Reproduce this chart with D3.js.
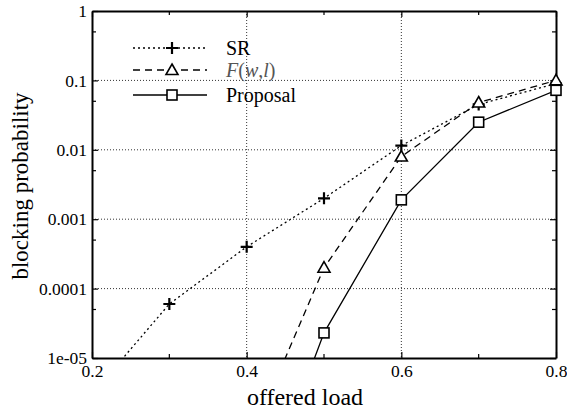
<!DOCTYPE html>
<html>
<head>
<meta charset="utf-8">
<script src="https://cdn.jsdelivr.net/npm/d3@7"></script>
<style>
  body { margin: 0; background: #fff; }
</style>
</head>
<body>
<svg id="chart" width="567" height="414"></svg>
<script>
// --- data ---
const loads = [0.2, 0.3, 0.4, 0.5, 0.6, 0.7, 0.8];
const srValues = [3e-6, 6e-5, 4e-4, 2e-3, 0.0115, 0.045, 0.09];
const fwlLoads = [0.4, 0.5, 0.6, 0.7, 0.8];
const fwlValues = [5e-7, 2e-4, 0.008, 0.048, 0.1];
const propLoads = [0.4, 0.5, 0.6, 0.7, 0.8];
const propValues = [2.5e-8, 2.3e-5, 0.0019, 0.025, 0.072];
// markers drawn only where points are inside the frame
const markFrom = { sr: 1, fwl: 1, prop: 1 };

const xTicks = [0.2, 0.4, 0.6, 0.8];
const xMinor = [0.3, 0.5, 0.7];
const yTicks = [1e-5, 1e-4, 1e-3, 1e-2, 0.1, 1];
const yTickLabels = ["1e-05", "0.0001", "0.001", "0.01", "0.1", "1"];
const yMinor = [5e-5, 5e-4, 5e-3, 0.05, 0.5];

const SERIF = "'Liberation Serif', 'Times New Roman', 'DejaVu Serif', serif";

const svg = d3.select("#chart");
const margin = { top: 11, right: 11, bottom: 56, left: 92 };
const W = 567 - margin.left - margin.right,
      H = 414 - margin.top - margin.bottom;

const g = svg.append("g").attr("transform", `translate(${margin.left},${margin.top})`);

const x = d3.scaleLinear().domain([0.2, 0.8]).range([0, W]);
const y = d3.scaleLog().domain([1e-5, 1]).range([H, 0]);

// clip
g.append("clipPath").attr("id", "clip")
  .append("rect").attr("width", W).attr("height", H);

// grid (dotted)
g.selectAll("line.gx").data(xTicks.slice(1, -1)).enter().append("line")
  .attr("x1", d => x(d)).attr("x2", d => x(d)).attr("y1", 0).attr("y2", H)
  .attr("stroke", "#333").attr("stroke-width", 1).attr("stroke-dasharray", "1,2");
g.selectAll("line.gy").data(yTicks.slice(1, -1)).enter().append("line")
  .attr("y1", d => y(d)).attr("y2", d => y(d)).attr("x1", 0).attr("x2", W)
  .attr("stroke", "#333").attr("stroke-width", 1).attr("stroke-dasharray", "1,2");

// axes (ticks inward)
const fmtY = d => yTickLabels[yTicks.indexOf(d)];
const axL = g.append("g").call(d3.axisLeft(y).tickValues(yTicks).tickFormat(fmtY).tickSizeInner(-6).tickSizeOuter(0).tickPadding(5));
const axB = g.append("g").attr("transform", `translate(0,${H})`)
  .call(d3.axisBottom(x).tickValues(xTicks).tickFormat(d3.format(".1f")).tickSizeInner(-6).tickSizeOuter(0).tickPadding(7));
const axR = g.append("g").attr("transform", `translate(${W},0)`)
  .call(d3.axisRight(y).tickValues(yTicks).tickFormat("").tickSizeInner(-6).tickSizeOuter(0));
const axT = g.append("g")
  .call(d3.axisTop(x).tickValues(xTicks).tickFormat("").tickSizeInner(-6).tickSizeOuter(0));
[axL, axB, axR, axT].forEach(a => {
  a.attr("font-family", SERIF).attr("font-size", 17.5);
  a.select(".domain").attr("stroke-width", 2);
  a.selectAll(".tick line").attr("stroke-width", 1.2);
  a.selectAll("text").attr("fill", "#000");
});

// minor ticks
[0, W].forEach(x0 => {
  g.selectAll(null).data(yMinor).enter().append("line")
    .attr("x1", x0).attr("x2", x0 === 0 ? 4 : W - 4)
    .attr("y1", d => y(d)).attr("y2", d => y(d))
    .attr("stroke", "#000").attr("stroke-width", 1.2);
});
[0, H].forEach(y0 => {
  g.selectAll(null).data(xMinor).enter().append("line")
    .attr("y1", y0).attr("y2", y0 === 0 ? 4 : H - 4)
    .attr("x1", d => x(d)).attr("x2", d => x(d))
    .attr("stroke", "#000").attr("stroke-width", 1.2);
});

// series
const series = [
  { key: "sr", xs: loads, ys: srValues, dash: "2,3", marker: "plus" },
  { key: "fwl", xs: fwlLoads, ys: fwlValues, dash: "7,5", marker: "tri" },
  { key: "prop", xs: propLoads, ys: propValues, dash: null, marker: "sq" }
];

const line = d3.line().x(d => x(d[0])).y(d => y(d[1]));
const plot = g.append("g").attr("clip-path", "url(#clip)");

function drawMarker(sel, type) {
  if (type === "plus") {
    sel.append("path").attr("d", "M-6,0H6M0,-6V6")
      .attr("stroke", "#000").attr("stroke-width", 2.2).attr("fill", "none");
  } else if (type === "tri") {
    sel.append("path").attr("d", "M0,-6L6,4.5H-6Z")
      .attr("stroke", "#000").attr("stroke-width", 1.6).attr("fill", "#fff");
  } else {
    sel.append("rect").attr("x", -5).attr("y", -5).attr("width", 10).attr("height", 10)
      .attr("stroke", "#000").attr("stroke-width", 1.6).attr("fill", "#fff");
  }
}

series.forEach(s => {
  const pts = s.xs.map((v, i) => [v, s.ys[i]]);
  plot.append("path").datum(pts).attr("d", line)
    .attr("fill", "none").attr("stroke", "#000").attr("stroke-width", 1.3)
    .attr("stroke-dasharray", s.dash);
});
series.forEach(s => {
  const pts = s.xs.map((v, i) => [v, s.ys[i]]).slice(markFrom[s.key]);
  pts.forEach(p => {
    const m = g.append("g").attr("transform", `translate(${x(p[0])},${y(p[1])})`);
    drawMarker(m, s.marker);
  });
});

// legend
const legend = svg.append("g").attr("font-family", SERIF);
const legendItems = [
  { label: "SR", dash: "2,3", marker: "plus", y: 48 },
  { label: "F(w,l)", dash: "7,5", marker: "tri", y: 70 },
  { label: "Proposal", dash: null, marker: "sq", y: 95 }
];
legendItems.forEach(d => {
  legend.append("line").attr("x1", 133).attr("x2", 207).attr("y1", d.y).attr("y2", d.y)
    .attr("stroke", "#000").attr("stroke-width", 1.3).attr("stroke-dasharray", d.dash);
  drawMarker(legend.append("g").attr("transform", `translate(172,${d.y})`), d.marker);
  const t = legend.append("text").attr("x", 226).attr("y", d.y + 7).attr("font-size", 20);
  if (d.marker === "tri") {
    t.attr("fill", "#555").attr("font-style", "italic");
    t.append("tspan").text("F");
    t.append("tspan").text("(").attr("font-style", "normal");
    t.append("tspan").text("w");
    t.append("tspan").text(",").attr("font-style", "normal");
    t.append("tspan").text("l");
    t.append("tspan").text(")").attr("font-style", "normal");
  } else {
    t.text(d.label);
  }
});

// axis titles
svg.append("text").attr("x", 305).attr("y", 405)
  .attr("text-anchor", "middle").attr("font-family", SERIF).attr("font-size", 24).text("offered load");
svg.append("text").attr("transform", "translate(28,186) rotate(-90)")
  .attr("text-anchor", "middle").attr("font-family", SERIF).attr("font-size", 23).text("blocking probability");
</script>
</body>
</html>
